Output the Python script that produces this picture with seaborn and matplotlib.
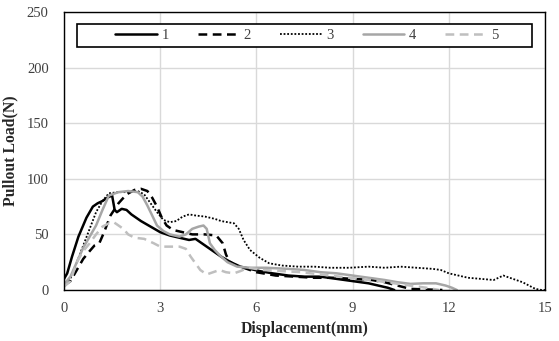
import matplotlib
matplotlib.use("Agg")
import matplotlib.pyplot as plt
from matplotlib.patches import Rectangle
import seaborn as sns
import pandas as pd

# ---- data ----
x1 = [0, 0.1, 0.25, 0.45, 0.7, 0.9, 1.05, 1.2, 1.35, 1.5, 1.58, 1.65, 1.8, 1.95, 2.1, 2.4, 2.7, 3.0,
      3.3, 3.6, 3.9, 4.1, 4.3, 4.6, 4.9, 5.2, 5.5, 5.8, 6.1, 6.5, 7.0, 7.5, 8.0, 8.5, 9.0, 9.5, 9.8,
      10.1, 10.3]
y1 = [10, 15, 30, 48, 65, 75, 78, 80, 83, 85, 72, 70, 73, 72, 68, 62, 57, 52,
      49, 47, 45, 46, 42, 36, 30, 25, 21, 19, 17, 15, 13, 12, 12, 10, 8, 6, 4,
      2, 0]

x2 = [0, 0.2, 0.4, 0.6, 0.8, 0.95, 1.1, 1.25, 1.45, 1.7, 1.95, 2.2, 2.4, 2.6, 2.75, 2.9, 3.05, 3.2,
      3.4, 3.7, 4.0, 4.4, 4.75, 4.95, 5.05, 5.15, 5.3, 5.6, 6.0, 6.6, 7.2, 7.8, 8.4, 9.0, 9.6, 10.0,
      10.4, 10.8, 11.8]
y2 = [4, 8, 18, 28, 35, 40, 42, 52, 67, 78, 86, 90, 91, 89, 83, 75, 65, 58,
      54, 52, 50, 50, 49, 42, 32, 26, 23, 20, 16, 13, 12, 11, 11, 10, 9, 7,
      4, 1, 0]

x3 = [0, 0.2, 0.4, 0.6, 0.8, 1.0, 1.2, 1.4, 1.7, 2.0, 2.3, 2.5, 2.7, 2.9, 3.1, 3.3, 3.5, 3.7, 3.9,
      4.1, 4.4, 4.7, 4.9, 5.1, 5.3, 5.45, 5.6, 5.8, 6.1, 6.4, 6.8, 7.3, 7.8, 8.3, 8.9, 9.5, 10.0,
      10.5, 11.0, 11.5, 11.75, 12.0, 12.3, 12.6, 13.0, 13.4, 13.7, 14.0, 14.3, 14.5, 14.7, 14.9, 15.0]
y3 = [3, 10, 25, 40, 55, 70, 80, 87, 88, 88, 89, 86, 78, 70, 63, 61, 62, 66, 68,
      67, 66, 64, 62, 61, 60, 55, 45, 36, 29, 24, 22, 21, 21, 20, 20, 21, 20,
      21, 20, 19, 18, 15, 13, 11, 10, 9, 13, 10, 7, 4, 1, 0, 0]

x4 = [0, 0.2, 0.4, 0.6, 0.8, 1.0, 1.2, 1.4, 1.7, 2.0, 2.3, 2.45, 2.6, 2.75, 2.9, 3.1, 3.3, 3.6,
      3.8, 4.0, 4.2, 4.35, 4.45, 4.55, 4.7, 4.9, 5.1, 5.4, 5.8, 6.3, 7.0, 7.5, 8.0, 8.5, 9.0, 9.5,
      10.0, 10.4, 10.8, 11.2, 11.6, 11.9, 12.1, 12.25]
y4 = [5, 12, 25, 38, 48, 58, 72, 85, 88, 89, 88, 84, 76, 67, 58, 53, 50, 48,
      50, 55, 57, 58, 55, 42, 36, 30, 25, 21, 20, 20, 19, 18, 16, 15, 13, 11,
      9, 7, 5.5, 6, 6, 4, 2, 0]

x5 = [0, 0.2, 0.4, 0.6, 0.8, 1.0, 1.2, 1.4, 1.55, 1.7, 1.85, 2.0, 2.2, 2.5, 2.8, 3.0, 3.3, 3.6,
      3.8, 3.95, 4.1, 4.25, 4.45, 4.65, 4.85, 5.05, 5.3, 5.5, 5.75, 6.2, 6.8, 7.4, 8.0, 8.6, 9.2,
      9.8, 10.3, 10.8, 11.3, 11.7]
y5 = [3, 8, 25, 35, 42, 50, 57, 60, 61, 58, 55, 50, 47, 46, 42, 39, 39, 39,
      37, 30, 24, 18, 14, 16, 18, 16, 15, 17, 20, 18, 17, 16, 14, 12, 10,
      8, 6, 4, 2, 0]

labels = ["1", "2", "3", "4", "5"]
x_ticks = [0, 3, 6, 9, 12, 15]
y_ticks = [0, 50, 100, 150, 200, 250]

series = [(x1, y1), (x2, y2), (x3, y3), (x4, y4), (x5, y5)]
styles = [
    dict(color="black", lw=1.8, ls="-"),
    dict(color="black", lw=1.8, ls=(0, (3.5, 2.2))),
    dict(color="black", lw=1.3, ls=(0, (1, 1))),
    dict(color="#A6A6A6", lw=1.8, ls="-"),
    dict(color="#BFBFBF", lw=1.8, ls=(0, (3.5, 2.2))),
]

sns.set_theme(style="white")
plt.rcParams["font.family"] = ["Liberation Serif", "DejaVu Serif"]

fig = plt.figure(figsize=(5.59, 3.41), dpi=100)
ax = fig.add_axes([64 / 559, 1 - 290 / 341, (545 - 64) / 559, (290 - 12) / 341])

for (xs, ys), lab, st in zip(series, labels, styles):
    df = pd.DataFrame({"x": xs, "y": ys})
    sns.lineplot(data=df, x="x", y="y", ax=ax, sort=False, label=lab,
                 color=st["color"], linewidth=st["lw"], linestyle=st["ls"])

ax.set_xlim(0, 15)
ax.set_ylim(0, 250)
ax.set_xticks(x_ticks)
ax.set_yticks(y_ticks)
ax.grid(True, color="#D9D9D9", linewidth=1.0)
ax.set_axisbelow(True)
for sp in ax.spines.values():
    sp.set_color("black")
    sp.set_linewidth(1.0)
    sp.set_visible(True)
ax.tick_params(axis="x", length=0, labelsize=10.5, colors="#404040", pad=9)
ax.tick_params(axis="y", length=0, labelsize=10.5, colors="#404040", pad=11)
ax.set_xlabel("Displacement(mm)", fontsize=11.3, fontweight="bold", labelpad=4)
ax.set_ylabel("Pullout Load(N)", fontsize=11.3, fontweight="bold", labelpad=6)

# legend box
ax.add_patch(Rectangle((0.027, 0.874), 0.946, 0.083, transform=ax.transAxes,
                       facecolor="white", edgecolor="black", linewidth=1.2, zorder=5))
leg = ax.legend(loc="center", bbox_to_anchor=(0.505, 0.915), ncol=5, frameon=False,
                fontsize=10.5, handlelength=2.85, handletextpad=0.3, columnspacing=2.0,
                borderpad=0.2)
leg.set_zorder(6)
for t in leg.get_texts():
    t.set_color("#404040")

fig.savefig("out.png", dpi=100)
